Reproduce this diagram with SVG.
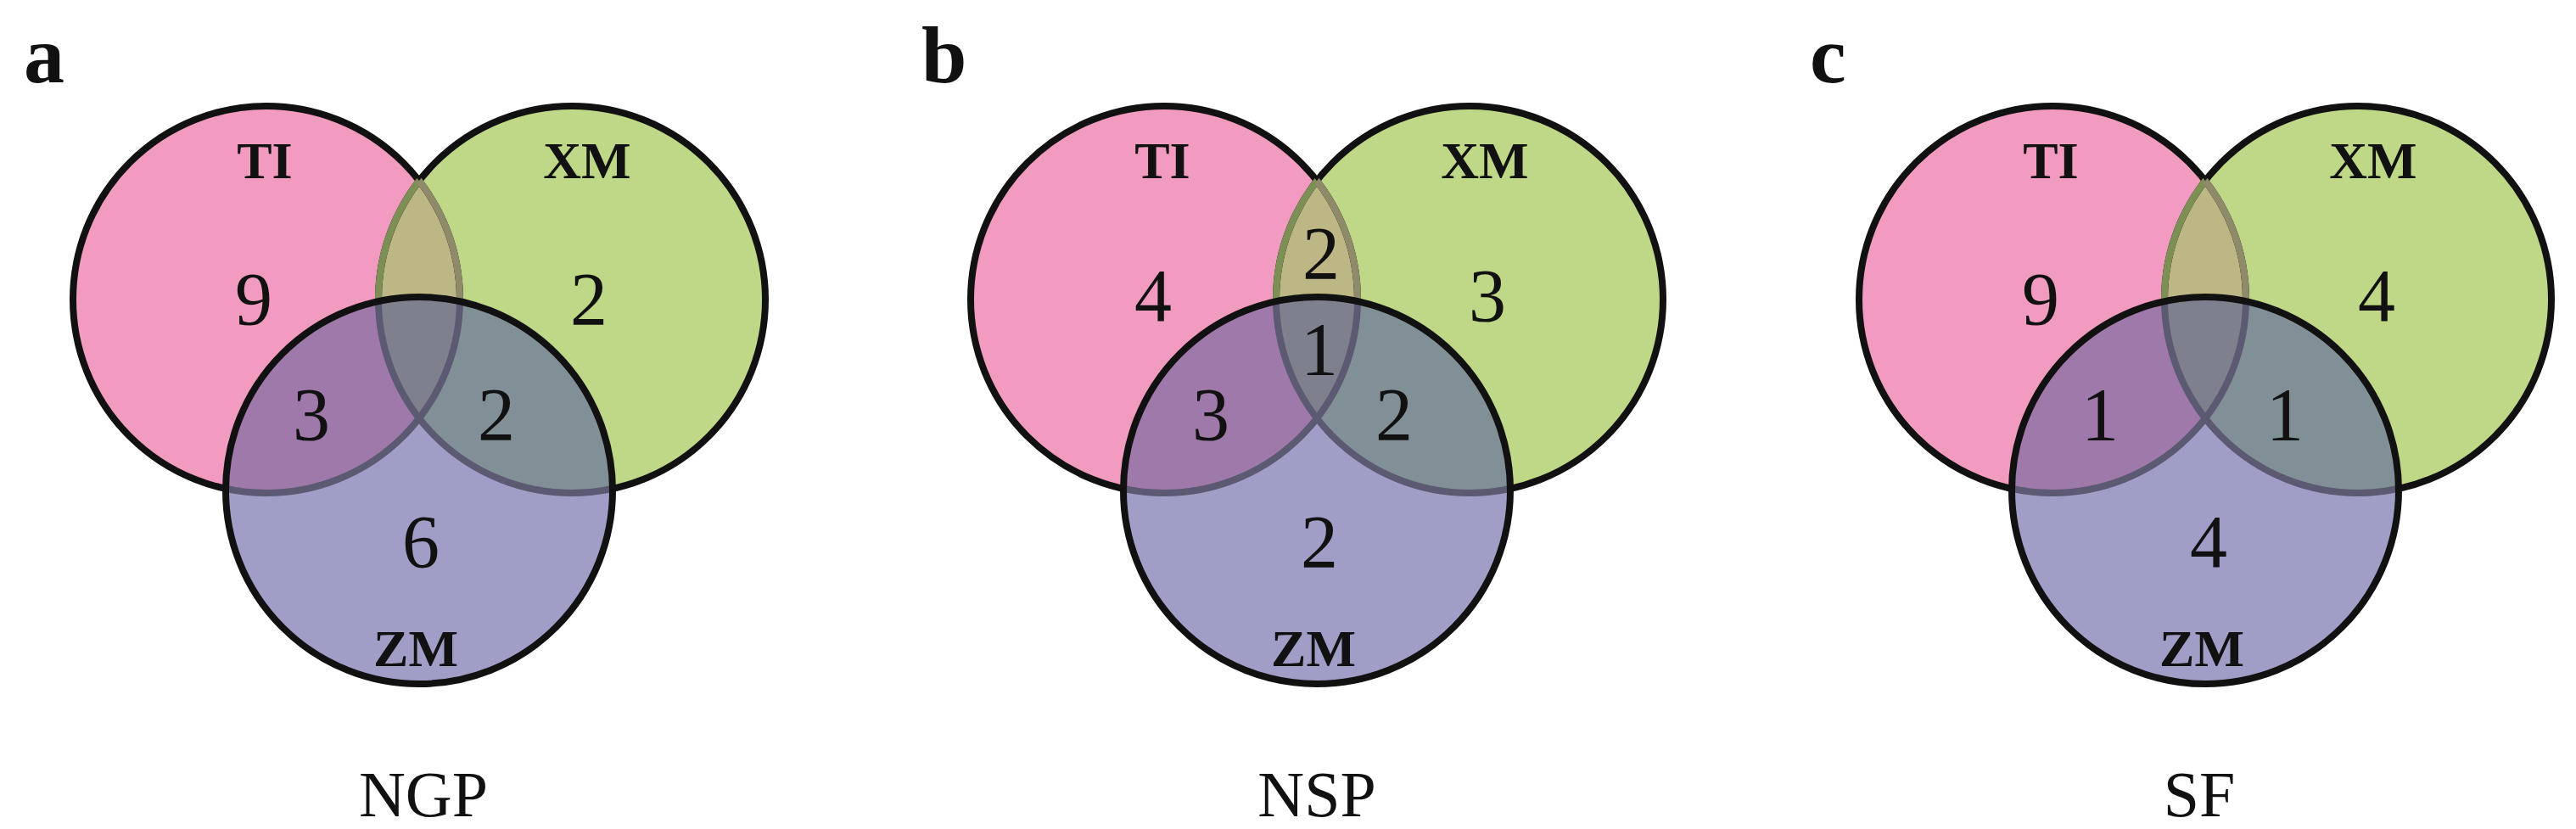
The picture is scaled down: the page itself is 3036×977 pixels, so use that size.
<svg xmlns="http://www.w3.org/2000/svg" xmlns:xlink="http://www.w3.org/1999/xlink" width="3036" height="977" viewBox="0 0 3036 977">
<style>
.lbl{font-family:"Liberation Serif",serif;font-weight:bold;font-size:62px;text-anchor:middle;fill:#111}
.num{font-family:"Liberation Serif",serif;font-size:88px;text-anchor:middle;fill:#111}
.ttl{font-family:"Liberation Serif",serif;font-size:76px;text-anchor:middle;fill:#111}
.pl{font-family:"Liberation Serif",serif;font-weight:bold;font-size:96px;fill:#111}
</style>
<defs>
<clipPath id="cTI"><circle cx="314" cy="353" r="228"/></clipPath>
<clipPath id="cXM"><circle cx="674" cy="353" r="228"/></clipPath>
<clipPath id="cZM"><circle cx="494" cy="578" r="228"/></clipPath>
<g id="venn">
<circle cx="314" cy="353" r="228" fill="#F09BBF"/>
<circle cx="674" cy="353" r="228" fill="#BFD888"/>
<g clip-path="url(#cTI)"><circle cx="674" cy="353" r="228" fill="#BDB685"/></g>
<circle cx="314" cy="353" r="228" fill="none" stroke="#111" stroke-width="8"/>
<circle cx="674" cy="353" r="228" fill="none" stroke="#111" stroke-width="8"/>
<g clip-path="url(#cTI)"><circle cx="674" cy="353" r="228" fill="none" stroke="#7d8f55" stroke-width="8"/></g>
<g clip-path="url(#cXM)"><circle cx="314" cy="353" r="228" fill="none" stroke="#8f8a6a" stroke-width="8"/></g>
<circle cx="494" cy="578" r="228" fill="#A09EC6"/>
<g clip-path="url(#cZM)">
<circle cx="314" cy="353" r="228" fill="#9E79A9"/>
<circle cx="674" cy="353" r="228" fill="#809096"/>
<g clip-path="url(#cTI)"><circle cx="674" cy="353" r="228" fill="#7F808E"/></g>
<circle cx="314" cy="353" r="228" fill="none" stroke="#5b5a72" stroke-width="8"/>
<circle cx="674" cy="353" r="228" fill="none" stroke="#5b5a72" stroke-width="8"/>
</g>
<circle cx="494" cy="578" r="228" fill="none" stroke="#111" stroke-width="8"/>
</g>
</defs>
<g id="panel-a">
<use xlink:href="#venn"/>
<text class="pl" x="28" y="97">a</text>
<text class="lbl" x="312" y="210">TI</text>
<text class="lbl" x="692" y="210">XM</text>
<text class="lbl" x="490" y="785">ZM</text>
<text class="num" x="299" y="382">9</text>
<text class="num" x="694" y="382">2</text>
<text class="num" x="367" y="518">3</text>
<text class="num" x="585" y="518">2</text>
<text class="num" x="496" y="668">6</text>
<text class="ttl" x="499" y="962">NGP</text>
</g>
<g id="panel-b">
<use xlink:href="#venn" transform="translate(1058,0)"/>
<text class="pl" x="1086" y="97">b</text>
<text class="lbl" x="1370" y="210">TI</text>
<text class="lbl" x="1750" y="210">XM</text>
<text class="lbl" x="1548" y="785">ZM</text>
<text class="num" x="1359" y="378">4</text>
<text class="num" x="1557" y="328">2</text>
<text class="num" x="1753" y="378">3</text>
<text class="num" x="1555" y="441">1</text>
<text class="num" x="1427" y="518">3</text>
<text class="num" x="1643" y="518">2</text>
<text class="num" x="1555" y="668">2</text>
<text class="ttl" x="1552" y="962">NSP</text>
</g>
<g id="panel-c">
<use xlink:href="#venn" transform="translate(2105,0)"/>
<text class="pl" x="2133" y="97">c</text>
<text class="lbl" x="2417" y="210">TI</text>
<text class="lbl" x="2797" y="210">XM</text>
<text class="lbl" x="2595" y="785">ZM</text>
<text class="num" x="2405" y="382">9</text>
<text class="num" x="2801" y="378">4</text>
<text class="num" x="2475" y="518">1</text>
<text class="num" x="2693" y="518">1</text>
<text class="num" x="2603" y="668">4</text>
<text class="ttl" x="2592" y="962">SF</text>
</g>
<g id="connectors"/>
</svg>
